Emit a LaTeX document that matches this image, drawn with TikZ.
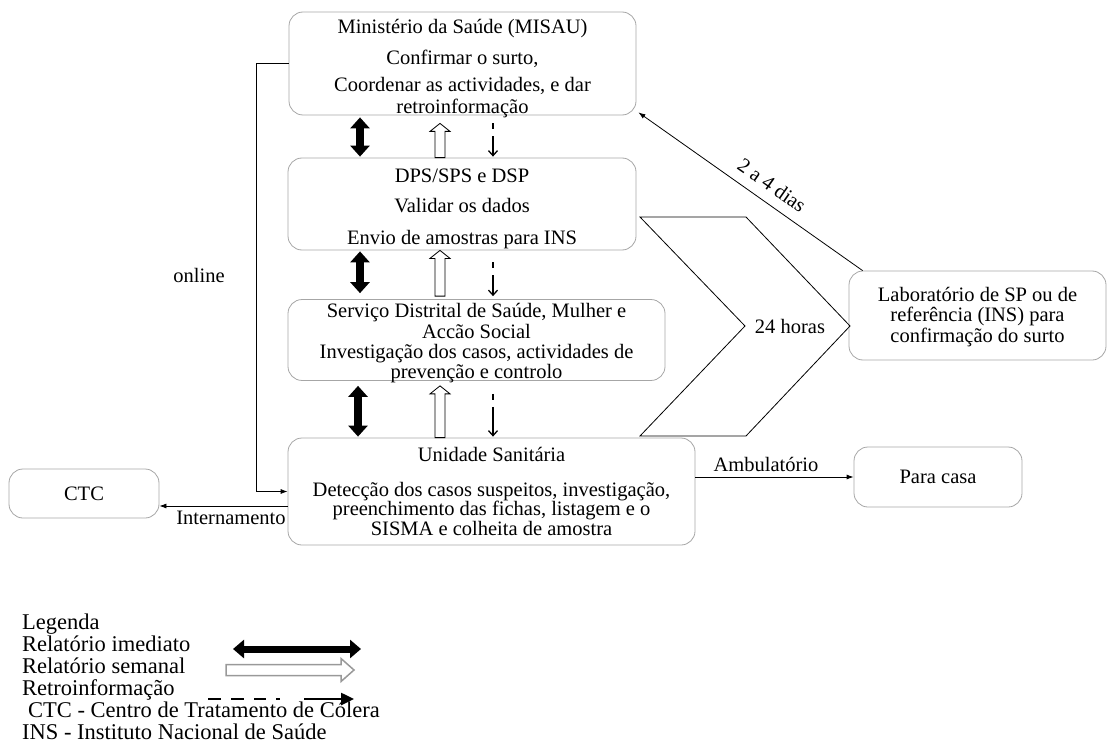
\documentclass[tikz,border=0pt]{standalone}
\usepackage{fontspec}
\setmainfont{Liberation Serif}
\usetikzlibrary{arrows.meta,calc}
\newcommand\HollowArrow[3]{% #1 tip, #2 base, #3 style
  \path (#1) coordinate (hat) (#2) coordinate (hab);
  \draw[#3] (hat) -- ($(hat)+(10,8)$) -- ($(hat)+(5,8)$) -- ($(hab)+(5,0)$)
     -- ($(hab)+(-5,0)$) -- ($(hat)+(-5,8)$) -- ($(hat)+(-10,8)$) -- cycle;}
\newcommand\Lowered[2]{\raisebox{#1}[\height][\depth]{\begin{tabular}{@{}c@{}}#2\end{tabular}}}
\begin{document}
\begin{tikzpicture}[x=1pt,y=-1pt,
  box/.style={draw=black!35, line width=0.8pt, rounded corners=14pt, align=center,
    inner sep=0pt, font=\fontsize{20.5}{22}\selectfont},
  lbl/.style={font=\fontsize{20.5}{22}\selectfont, inner sep=0pt},
  leg/.style={font=\fontsize{22.5}{22}\selectfont, inner sep=0pt, anchor=base west},
  con/.style={line width=0.8pt, -{Latex[length=7pt,width=5pt]}},
  imm/.style={line width=8pt, {Triangle[width=19pt,length=11pt]}-{Triangle[width=19pt,length=11pt]}},
  hol/.style={line width=0.8pt, draw=black, fill=white},
  retro/.style={line width=1.3pt, dash pattern=on 6pt off 7pt on 200pt,
    -{Straight Barb[length=5pt,width=9pt]}}]
\useasboundingbox (0,0) rectangle (1108,749);

% boxes
\node[box, minimum width=347pt, minimum height=103pt] (misau) at (462.5,63.5)
  {\Lowered{-5.5pt}{Ministério da Saúde (MISAU)\\[9pt] Confirmar o surto,\\[5pt] Coordenar as actividades, e dar\\ retroinformação}};
\node[box, minimum width=348pt, minimum height=92pt] (dps) at (462,204)
  {\Lowered{-5.5pt}{DPS/SPS e DSP\\[8pt] Validar os dados\\[10pt] Envio de amostras para INS}};
\node[box, minimum width=377pt, minimum height=80pt, font=\fontsize{20.5}{20}\selectfont] (serv) at (476.5,340)
  {\Lowered{-4pt}{Serviço Distrital de Saúde, Mulher e\\ Accão Social\\ Investigação dos casos, actividades de\\ prevenção e controlo}};
\node[box, minimum width=407pt, minimum height=107pt, font=\fontsize{20.5}{19.5}\selectfont] (us) at (491.5,491.5)
  {Unidade Sanitária\\[15pt] Detecção dos casos suspeitos, investigação,\\ preenchimento das fichas, listagem e o\\ SISMA e colheita de amostra};
\node[box, minimum width=257pt, minimum height=89pt, font=\fontsize{20.5}{20}\selectfont] (lab) at (977.5,315.5)
  {\Lowered{-2pt}{Laboratório de SP ou de\\ referência (INS) para\\ confirmação do surto}};
\node[box, minimum width=150pt, minimum height=49pt] (ctc) at (84,493.5) {CTC};
\node[box, minimum width=168pt, minimum height=60pt] (casa) at (938,477) {Para casa};

% vertical arrows: immediate
\draw[imm, shorten <=2pt, shorten >=1pt] (360,0 |- misau.south) -- (360,0 |- dps.north);
\draw[imm, shorten <=1pt, shorten >=6pt] (360,0 |- dps.south) -- (360,0 |- serv.north);
\draw[imm, shorten <=5pt, shorten >=1pt] (358,0 |- serv.south) -- (358,0 |- us.north);
% weekly (hollow)
\HollowArrow{$(440,0 |- misau.south)+(0,8)$}{440,0 |- dps.north}{hol}
\HollowArrow{440,0 |- dps.south}{$(440,0 |- serv.north)+(0,-3)$}{hol}
\HollowArrow{$(440,0 |- serv.south)+(0,5)$}{440,0 |- us.north}{hol}
% feedback (dashed)
\draw[retro, shorten <=8pt, shorten >=1pt] (493,0 |- misau.south) -- (493,0 |- dps.north);
\draw[retro, shorten <=12pt, shorten >=3pt] (493,0 |- dps.south) -- (493,0 |- serv.north);
\draw[retro, shorten <=13pt, shorten >=1pt] (493,0 |- serv.south) -- (493,0 |- us.north);

% online
\draw[con] (misau.west) -- (256,0 |- misau.west) |- (us.west);
\node[lbl] (online) at (199,275) {online};

% internamento
\draw[con] (us.west |- 0,506) -- (ctc.east |- 0,506);
\node[lbl, anchor=north] (intern) at (231,511) {Internamento};

% ambulatorio
\draw[con] (us.east |- casa.west) -- (casa.west);
\node[lbl, anchor=south] (amb) at (766,472) {Ambulatório};

% 24 horas chevron
\draw[line width=0.8pt] (640,217) -- (746,217) -- (850,326) -- (746,436) -- (640,436) -- (745,326) -- cycle;
\node[lbl] (h24) at (790,326) {24 horas};

% lab -> misau
\draw[con] ([xshift=14pt]lab.north west) -- ([xshift=2pt,yshift=3pt]misau.south east);
\node[lbl, rotate=-35] (dias) at (772,185) {2 a 4 dias};

% legend
\node[leg] (l1) at (22,629) {Legenda};
\node[leg] (l2) at (22,651) {Relatório imediato};
\node[leg] (l3) at (22,673) {Relatório semanal};
\node[leg] (l4) at (22,695) {Retroinformação};
\node[leg] (l5) at (28,717) {CTC - Centro de Tratamento de Cólera};
\node[leg] (l6) at (22,739) {INS - Instituto Nacional de Saúde};

\draw[line width=7pt, {Triangle[width=18pt,length=11pt]}-{Triangle[width=18pt,length=11pt]}] (233,649) -- (361,649);
\draw[line width=1.5pt, draw=black!40, fill=white]
  (226,664.5) -- (341,664.5) -- (341,658.5) -- (354,670) -- (341,681.5) -- (341,675.5) -- (226,675.5) -- cycle;
\draw[line width=2.5pt, dash pattern=on 13pt off 10pt on 13pt off 10pt on 12pt off 10pt on 4pt off 24pt on 60pt,
  -{Triangle[length=13pt,width=12pt]}] (208,699) -- (354,699);
\end{tikzpicture}
\end{document}
